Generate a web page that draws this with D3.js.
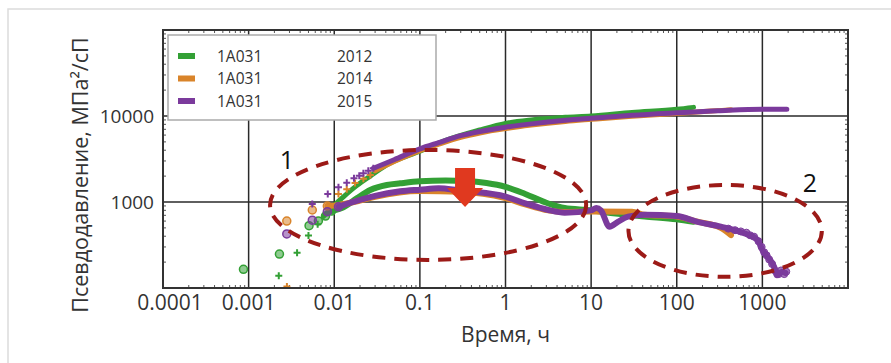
<!DOCTYPE html>
<html>
<head>
<meta charset="utf-8">
<script src="https://cdn.jsdelivr.net/npm/d3@7"></script>
<style>
  body { margin: 0; background: #fff; }
  svg { display: block; font-family: "Open Sans", "Noto Sans", sans-serif; }
</style>
</head>
<body>
<div id="chart-area"></div>
<script>
// ---- data (time in hours, pseudo-pressure in MPa^2/cP) ----
const years = ["2012", "2014", "2015"];
const wellName = "1A031";
const colors = ["#33a035", "#d9842a", "#7b3a9c"];
const xTicks = [0.0001, 0.001, 0.01, 0.1, 1, 10, 100, 1000];
const yTicks = [1000, 10000];

// early "+" markers (pseudo-pressure)
const plus2012 = [[0.00225, 139], [0.00368, 257], [0.005, 407], [0.0064, 550]];
const plus2014 = [[0.0028, 104], [0.0112, 1240], [0.014, 1406], [0.0175, 1660], [0.0219, 1862], [0.0264, 2060]];
const plus2015 = [[0.00554, 950], [0.0084, 1240], [0.0112, 1483], [0.014, 1675], [0.017, 1886], [0.0196, 2023], [0.0219, 2157], [0.025, 2313], [0.0286, 2466]];

// pseudo-pressure lines
const press2012 = [[0.0075, 680], [0.01, 920], [0.0128, 1150], [0.0183, 1550], [0.0263, 2000], [0.041, 2700], [0.1, 3900], [0.2, 5200], [0.5, 6870], [1, 8200], [2, 9000], [5, 9650], [10, 10000], [30, 11000], [100, 11970], [157, 12600]];
const press2014 = [[0.03, 2300], [0.05, 2950], [0.1, 3950], [0.166, 4700], [0.3, 5650], [0.5, 6350], [1, 7150], [2, 7850], [5, 8650], [10, 9150], [30, 9950], [100, 10700], [250, 11400], [430, 11800]];
const press2015 = [[0.0286, 2466], [0.05, 3100], [0.1, 4150], [0.166, 4900], [0.3, 5900], [0.485, 6560], [1, 7400], [2, 8100], [5, 8900], [10, 9400], [30, 10200], [100, 10900], [300, 11500], [1000, 12000], [1930, 12000]];

// early derivative circles
const circ2012 = [[0.00087, 165], [0.00229, 248], [0.00508, 530], [0.00652, 602], [0.0079, 687], [0.0093, 785]];
const circ2014 = [[0.00279, 600], [0.00554, 807], [0.0083, 898]];
const circ2015 = [[0.00279, 425], [0.00554, 615], [0.0083, 771], [0.0112, 880]];

// derivative lines
const deriv2012 = [[0.0093, 785], [0.0128, 866], [0.0183, 1103], [0.0263, 1380], [0.041, 1577], [0.059, 1650], [0.1, 1740], [0.2, 1775], [0.35, 1750], [0.6, 1660], [1, 1500], [1.7, 1240], [3.16, 960], [4.9, 850], [10, 800], [14.4, 760], [42, 680], [100, 630], [157, 590]];
const deriv2014 = [[0.0083, 898], [0.011, 920], [0.02, 1040], [0.03, 1150], [0.1, 1340], [0.3, 1320], [1, 1110], [1.7, 940], [3.16, 800], [5, 765], [10, 775], [30, 771], [42, 712], [100, 680], [175, 590], [327, 500], [430, 413]];
const deriv2015 = [[0.0112, 880], [0.014, 950], [0.02, 1060], [0.03, 1180], [0.059, 1330], [0.1, 1390], [0.166, 1443], [0.295, 1360], [0.42, 1318], [1, 1155], [1.7, 966], [3.16, 807], [4.9, 751], [10, 800], [11.5, 850], [13, 800], [16.4, 517], [20.5, 588], [27, 675], [42, 710], [100, 687], [175, 588], [327, 517], [612, 432], [875, 363], [1000, 277], [1150, 231], [1370, 177], [1480, 141], [1700, 155], [1860, 150]];
// noisy tail of 2015 derivative
const tail2015 = [[400, 490], [480, 470], [560, 455], [650, 440], [720, 410], [800, 395], [900, 350], [980, 300], [1050, 260], [1120, 240], [1200, 215], [1300, 190], [1400, 160], [1550, 145], [1650, 160], [1800, 145], [1900, 155]];

const plusSets = [plus2012, plus2014, plus2015];
const pressSets = [press2012, press2014, press2015];
const circSets = [circ2012, circ2014, circ2015];
const derivSets = [deriv2012, deriv2014, deriv2015];

// annotations in data space: [tLeft, tRight, pBottom, pTop]
const ellipses = [[0.00178, 8.75, 212, 4030], [27.3, 4950, 135, 1577]];
const ellipseLabels = [["1", 0.0028, 3080], ["2", 3600, 1660]];
const arrowAt = { t: 0.337, top: 2480, tip: 875 };

// ---- layout ----
const W = 891, H = 363;
const plot = { left: 163, right: 848, top: 30, bottom: 288 };

const svg = d3.select('#chart-area')
  .append('svg')
    .attr('width', W)
    .attr('height', H);

// outer figure frame (light)
svg.append('path')
  .attr('d', `M8,${H} L8,9 L${W},9`)
  .attr('fill', 'none')
  .attr('stroke', '#dcdcdc')
  .attr('stroke-width', 1.5);

const x = d3.scaleLog().domain([1e-4, 1e4]).range([plot.left, plot.right]);
const y = d3.scaleLog().domain([100, 1e5]).range([plot.bottom, plot.top]);

svg.append('clipPath').attr('id', 'clip')
  .append('rect')
    .attr('x', plot.left).attr('y', plot.top)
    .attr('width', plot.right - plot.left).attr('height', plot.bottom - plot.top);

// minor ticks (inward on all four sides)
const minorX = [];
for (let e = -4; e < 4; e++) for (let m = 2; m <= 9; m++) minorX.push(m * Math.pow(10, e));
const minorY = [];
for (let e = 2; e < 5; e++) for (let m = 2; m <= 9; m++) minorY.push(m * Math.pow(10, e));

const ticks = svg.append('g').attr('stroke', '#555').attr('stroke-width', 1);
minorX.forEach(v => {
  ticks.append('line').attr('x1', x(v)).attr('x2', x(v)).attr('y1', plot.bottom).attr('y2', plot.bottom - 3);
  ticks.append('line').attr('x1', x(v)).attr('x2', x(v)).attr('y1', plot.top).attr('y2', plot.top + 3);
});
minorY.forEach(v => {
  ticks.append('line').attr('y1', y(v)).attr('y2', y(v)).attr('x1', plot.left).attr('x2', plot.left + 3);
  ticks.append('line').attr('y1', y(v)).attr('y2', y(v)).attr('x1', plot.right).attr('x2', plot.right - 3);
});

// grid
const grid = svg.append('g').attr('stroke', '#2a2a2a').attr('stroke-width', 1.5);
xTicks.slice(1).forEach(v => {
  grid.append('line').attr('x1', x(v)).attr('x2', x(v)).attr('y1', plot.top).attr('y2', plot.bottom);
});
yTicks.forEach(v => {
  grid.append('line').attr('y1', y(v)).attr('y2', y(v)).attr('x1', plot.left).attr('x2', plot.right);
});

// tick labels
svg.append('g').selectAll('text')
  .data(xTicks)
  .join('text')
    .attr('x', (d, i) => x(d) + (i === 0 ? 7 : 0))
    .attr('y', plot.bottom + 22)
    .attr('text-anchor', 'middle')
    .attr('font-size', 21)
    .attr('fill', '#333')
    .text(d => String(d));

svg.append('g').selectAll('text')
  .data(yTicks)
  .join('text')
    .attr('x', plot.left - 9)
    .attr('y', d => y(d) + 7)
    .attr('text-anchor', 'end')
    .attr('font-size', 19)
    .attr('fill', '#333')
    .text(d => String(d));

// axis titles
svg.append('text')
  .attr('x', (plot.left + plot.right) / 2)
  .attr('y', 342)
  .attr('text-anchor', 'middle')
  .attr('font-size', 21)
  .attr('fill', '#333')
  .text('Время, ч');

svg.append('text')
  .attr('transform', `translate(88, 175) rotate(-90)`)
  .attr('text-anchor', 'middle')
  .attr('font-size', 21.5)
  .attr('fill', '#333')
  .text('Псевдодавление, МПа²/сП');

// data
const data = svg.append('g').attr('clip-path', 'url(#clip)');
const line = d3.line().x(d => x(d[0])).y(d => y(d[1])).curve(d3.curveMonotoneX);

years.forEach((yr, i) => {
  const c = colors[i];
  const g = data.append('g').attr('class', 'series-' + yr);

  g.append('path')
    .datum(pressSets[i])
    .attr('d', line)
    .attr('fill', 'none')
    .attr('stroke', c)
    .attr('stroke-width', 5)
    .attr('stroke-linecap', 'round');

  g.append('path')
    .datum(derivSets[i])
    .attr('d', line)
    .attr('fill', 'none')
    .attr('stroke', c)
    .attr('stroke-width', 6)
    .attr('stroke-linecap', 'round');

  g.selectAll('.plus')
    .data(plusSets[i])
    .join('path')
      .attr('class', 'plus')
      .attr('d', d => {
        const px = x(d[0]), py = y(d[1]);
        return `M${px - 3.5},${py} H${px + 3.5} M${px},${py - 3.5} V${py + 3.5}`;
      })
      .attr('stroke', c)
      .attr('stroke-width', 2);

  g.selectAll('.circ')
    .data(circSets[i])
    .join('circle')
      .attr('class', 'circ')
      .attr('cx', d => x(d[0]))
      .attr('cy', d => y(d[1]))
      .attr('r', 4)
      .attr('fill', c)
      .attr('fill-opacity', 0.55)
      .attr('stroke', c)
      .attr('stroke-width', 1.5);

  if (yr === "2015") {
    g.selectAll('.tail')
      .data(tail2015)
      .join('circle')
        .attr('class', 'tail')
        .attr('cx', d => x(d[0]))
        .attr('cy', d => y(d[1]))
        .attr('r', 3.5)
        .attr('fill', c)
        .attr('fill-opacity', 0.7)
        .attr('stroke', c)
        .attr('stroke-width', 1);
  }
});

// annotations
ellipses.forEach(e => {
  const x0 = x(e[0]), x1 = x(e[1]), y0 = y(e[3]), y1 = y(e[2]);
  svg.append('ellipse')
    .attr('cx', (x0 + x1) / 2)
    .attr('cy', (y0 + y1) / 2)
    .attr('rx', (x1 - x0) / 2)
    .attr('ry', (y1 - y0) / 2)
    .attr('fill', 'none')
    .attr('stroke', '#9c1a17')
    .attr('stroke-width', 4)
    .attr('stroke-dasharray', '13,9');
});

ellipseLabels.forEach(l => {
  svg.append('text')
    .attr('x', x(l[1]))
    .attr('y', y(l[2]) + 9)
    .attr('text-anchor', 'middle')
    .attr('font-size', 25)
    .attr('fill', '#111')
    .text(l[0]);
});

{
  const ax = x(arrowAt.t), top = y(arrowAt.top), tip = y(arrowAt.tip);
  const headY = tip - 19;
  svg.append('path')
    .attr('d', `M${ax - 10},${top} H${ax + 10} V${headY} H${ax + 18} L${ax},${tip} L${ax - 18},${headY} H${ax - 10} Z`)
    .attr('fill', '#e0391f');
}

// frame
svg.append('rect')
  .attr('x', plot.left).attr('y', plot.top)
  .attr('width', plot.right - plot.left).attr('height', plot.bottom - plot.top)
  .attr('fill', 'none')
  .attr('stroke', '#333')
  .attr('stroke-width', 2);

// legend
const legend = svg.append('g');
legend.append('rect')
  .attr('x', 168).attr('y', 35)
  .attr('width', 268).attr('height', 85)
  .attr('fill', '#fff')
  .attr('stroke', '#aaa')
  .attr('stroke-width', 1.5);

years.forEach((yr, i) => {
  const ry = 56 + i * 22.5;
  legend.append('rect')
    .attr('x', 178).attr('y', ry - 3)
    .attr('width', 17).attr('height', 6)
    .attr('fill', colors[i]);
  legend.append('text')
    .attr('x', 217).attr('y', ry + 5.5)
    .attr('font-size', 15.5)
    .attr('fill', '#333')
    .text(wellName);
  legend.append('text')
    .attr('x', 337).attr('y', ry + 5.5)
    .attr('font-size', 15.5)
    .attr('fill', '#333')
    .text(yr);
});
</script>
</body>
</html>
